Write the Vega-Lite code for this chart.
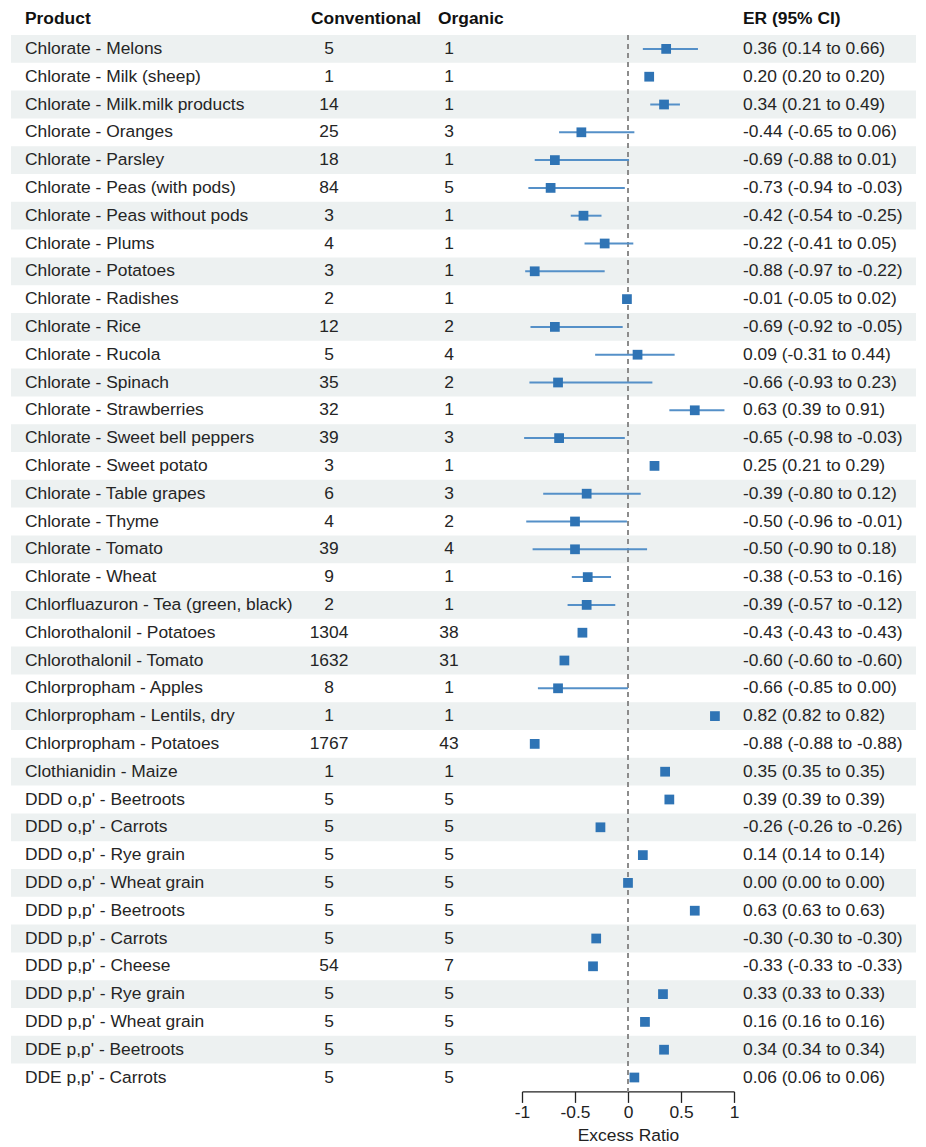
{
  "$schema": "https://vega.github.io/schema/vega-lite/v6.json",
  "padding": {"left": 11, "top": 9, "right": 0, "bottom": 0},
  "spacing": 0,
  "bounds": "flush",
  "config": {
    "view": {"stroke": null},
    "font": "Liberation Sans",
    "text": {"font": "Liberation Sans", "fontSize": 17.4, "color": "#252525"}
  },
  "data": {"values": [
    {"product": "Chlorate - Melons", "conv": "5", "org": "1", "er": 0.36, "lo": 0.14, "hi": 0.66, "label": "0.36 (0.14 to 0.66)"},
    {"product": "Chlorate - Milk (sheep)", "conv": "1", "org": "1", "er": 0.20, "lo": 0.20, "hi": 0.20, "label": "0.20 (0.20 to 0.20)"},
    {"product": "Chlorate - Milk.milk products", "conv": "14", "org": "1", "er": 0.34, "lo": 0.21, "hi": 0.49, "label": "0.34 (0.21 to 0.49)"},
    {"product": "Chlorate - Oranges", "conv": "25", "org": "3", "er": -0.44, "lo": -0.65, "hi": 0.06, "label": "-0.44 (-0.65 to 0.06)"},
    {"product": "Chlorate - Parsley", "conv": "18", "org": "1", "er": -0.69, "lo": -0.88, "hi": 0.01, "label": "-0.69 (-0.88 to 0.01)"},
    {"product": "Chlorate - Peas (with pods)", "conv": "84", "org": "5", "er": -0.73, "lo": -0.94, "hi": -0.03, "label": "-0.73 (-0.94 to -0.03)"},
    {"product": "Chlorate - Peas without pods", "conv": "3", "org": "1", "er": -0.42, "lo": -0.54, "hi": -0.25, "label": "-0.42 (-0.54 to -0.25)"},
    {"product": "Chlorate - Plums", "conv": "4", "org": "1", "er": -0.22, "lo": -0.41, "hi": 0.05, "label": "-0.22 (-0.41 to 0.05)"},
    {"product": "Chlorate - Potatoes", "conv": "3", "org": "1", "er": -0.88, "lo": -0.97, "hi": -0.22, "label": "-0.88 (-0.97 to -0.22)"},
    {"product": "Chlorate - Radishes", "conv": "2", "org": "1", "er": -0.01, "lo": -0.05, "hi": 0.02, "label": "-0.01 (-0.05 to 0.02)"},
    {"product": "Chlorate - Rice", "conv": "12", "org": "2", "er": -0.69, "lo": -0.92, "hi": -0.05, "label": "-0.69 (-0.92 to -0.05)"},
    {"product": "Chlorate - Rucola", "conv": "5", "org": "4", "er": 0.09, "lo": -0.31, "hi": 0.44, "label": "0.09 (-0.31 to 0.44)"},
    {"product": "Chlorate - Spinach", "conv": "35", "org": "2", "er": -0.66, "lo": -0.93, "hi": 0.23, "label": "-0.66 (-0.93 to 0.23)"},
    {"product": "Chlorate - Strawberries", "conv": "32", "org": "1", "er": 0.63, "lo": 0.39, "hi": 0.91, "label": "0.63 (0.39 to 0.91)"},
    {"product": "Chlorate - Sweet bell peppers", "conv": "39", "org": "3", "er": -0.65, "lo": -0.98, "hi": -0.03, "label": "-0.65 (-0.98 to -0.03)"},
    {"product": "Chlorate - Sweet potato", "conv": "3", "org": "1", "er": 0.25, "lo": 0.21, "hi": 0.29, "label": "0.25 (0.21 to 0.29)"},
    {"product": "Chlorate - Table grapes", "conv": "6", "org": "3", "er": -0.39, "lo": -0.80, "hi": 0.12, "label": "-0.39 (-0.80 to 0.12)"},
    {"product": "Chlorate - Thyme", "conv": "4", "org": "2", "er": -0.50, "lo": -0.96, "hi": -0.01, "label": "-0.50 (-0.96 to -0.01)"},
    {"product": "Chlorate - Tomato", "conv": "39", "org": "4", "er": -0.50, "lo": -0.90, "hi": 0.18, "label": "-0.50 (-0.90 to 0.18)"},
    {"product": "Chlorate - Wheat", "conv": "9", "org": "1", "er": -0.38, "lo": -0.53, "hi": -0.16, "label": "-0.38 (-0.53 to -0.16)"},
    {"product": "Chlorfluazuron - Tea (green, black)", "conv": "2", "org": "1", "er": -0.39, "lo": -0.57, "hi": -0.12, "label": "-0.39 (-0.57 to -0.12)"},
    {"product": "Chlorothalonil - Potatoes", "conv": "1304", "org": "38", "er": -0.43, "lo": -0.43, "hi": -0.43, "label": "-0.43 (-0.43 to -0.43)"},
    {"product": "Chlorothalonil - Tomato", "conv": "1632", "org": "31", "er": -0.60, "lo": -0.60, "hi": -0.60, "label": "-0.60 (-0.60 to -0.60)"},
    {"product": "Chlorpropham - Apples", "conv": "8", "org": "1", "er": -0.66, "lo": -0.85, "hi": 0.00, "label": "-0.66 (-0.85 to 0.00)"},
    {"product": "Chlorpropham - Lentils, dry", "conv": "1", "org": "1", "er": 0.82, "lo": 0.82, "hi": 0.82, "label": "0.82 (0.82 to 0.82)"},
    {"product": "Chlorpropham - Potatoes", "conv": "1767", "org": "43", "er": -0.88, "lo": -0.88, "hi": -0.88, "label": "-0.88 (-0.88 to -0.88)"},
    {"product": "Clothianidin - Maize", "conv": "1", "org": "1", "er": 0.35, "lo": 0.35, "hi": 0.35, "label": "0.35 (0.35 to 0.35)"},
    {"product": "DDD o,p' - Beetroots", "conv": "5", "org": "5", "er": 0.39, "lo": 0.39, "hi": 0.39, "label": "0.39 (0.39 to 0.39)"},
    {"product": "DDD o,p' - Carrots", "conv": "5", "org": "5", "er": -0.26, "lo": -0.26, "hi": -0.26, "label": "-0.26 (-0.26 to -0.26)"},
    {"product": "DDD o,p' - Rye grain", "conv": "5", "org": "5", "er": 0.14, "lo": 0.14, "hi": 0.14, "label": "0.14 (0.14 to 0.14)"},
    {"product": "DDD o,p' - Wheat grain", "conv": "5", "org": "5", "er": 0.00, "lo": 0.00, "hi": 0.00, "label": "0.00 (0.00 to 0.00)"},
    {"product": "DDD p,p' - Beetroots", "conv": "5", "org": "5", "er": 0.63, "lo": 0.63, "hi": 0.63, "label": "0.63 (0.63 to 0.63)"},
    {"product": "DDD p,p' - Carrots", "conv": "5", "org": "5", "er": -0.30, "lo": -0.30, "hi": -0.30, "label": "-0.30 (-0.30 to -0.30)"},
    {"product": "DDD p,p' - Cheese", "conv": "54", "org": "7", "er": -0.33, "lo": -0.33, "hi": -0.33, "label": "-0.33 (-0.33 to -0.33)"},
    {"product": "DDD p,p' - Rye grain", "conv": "5", "org": "5", "er": 0.33, "lo": 0.33, "hi": 0.33, "label": "0.33 (0.33 to 0.33)"},
    {"product": "DDD p,p' - Wheat grain", "conv": "5", "org": "5", "er": 0.16, "lo": 0.16, "hi": 0.16, "label": "0.16 (0.16 to 0.16)"},
    {"product": "DDE p,p' - Beetroots", "conv": "5", "org": "5", "er": 0.34, "lo": 0.34, "hi": 0.34, "label": "0.34 (0.34 to 0.34)"},
    {"product": "DDE p,p' - Carrots", "conv": "5", "org": "5", "er": 0.06, "lo": 0.06, "hi": 0.06, "label": "0.06 (0.06 to 0.06)"}
  ]},
  "transform": [{"window": [{"op": "row_number", "as": "idx"}]}],
  "hconcat": [
    {
      "width": 290,
      "height": {"step": 27.8},
      "title": {"text": "Product", "anchor": "start", "dx": 14, "fontSize": 17.4, "fontWeight": "bold", "font": "Liberation Sans", "color": "#111", "baseline": "middle", "offset": -1},
      "layer": [
        {"mark": {"type": "rect"}, "encoding": {
          "y": {"field": "product", "type": "nominal", "sort": null, "axis": null, "scale": {"paddingInner": 0, "paddingOuter": 0}},
          "fill": {"condition": {"test": "datum.idx % 2 === 1", "value": "#edf1f1"}, "value": "rgba(255,255,255,0)"}}},
        {"mark": {"type": "text", "align": "left", "baseline": "middle", "dx": 14}, "encoding": {
          "y": {"field": "product", "type": "nominal", "sort": null, "axis": null},
          "x": {"value": 0},
          "text": {"field": "product", "type": "nominal"}}}
      ]
    },
    {
      "width": 56,
      "height": {"step": 27.8},
      "title": {"text": "Conventional", "anchor": "start", "dx": 10, "fontSize": 17.4, "fontWeight": "bold", "font": "Liberation Sans", "color": "#111", "baseline": "middle", "offset": -1},
      "layer": [
        {"mark": {"type": "rect"}, "encoding": {
          "y": {"field": "product", "type": "nominal", "sort": null, "axis": null, "scale": {"paddingInner": 0, "paddingOuter": 0}},
          "fill": {"condition": {"test": "datum.idx % 2 === 1", "value": "#edf1f1"}, "value": "rgba(255,255,255,0)"}}},
        {"mark": {"type": "text", "align": "center", "baseline": "middle"}, "encoding": {
          "y": {"field": "product", "type": "nominal", "sort": null, "axis": null},
          "x": {"value": 28},
          "text": {"field": "conv", "type": "nominal"}}}
      ]
    },
    {
      "width": 165,
      "height": {"step": 27.8},
      "title": {"text": "Organic", "anchor": "start", "dx": 81, "fontSize": 17.4, "fontWeight": "bold", "font": "Liberation Sans", "color": "#111", "baseline": "middle", "offset": -1},
      "layer": [
        {"mark": {"type": "rect"}, "encoding": {
          "y": {"field": "product", "type": "nominal", "sort": null, "axis": null, "scale": {"paddingInner": 0, "paddingOuter": 0}},
          "fill": {"condition": {"test": "datum.idx % 2 === 1", "value": "#edf1f1"}, "value": "rgba(255,255,255,0)"}}},
        {"mark": {"type": "text", "align": "center", "baseline": "middle"}, "encoding": {
          "y": {"field": "product", "type": "nominal", "sort": null, "axis": null},
          "x": {"value": 92},
          "text": {"field": "org", "type": "nominal"}}}
      ]
    },
    {
      "width": 212,
      "height": {"step": 27.8},
      "layer": [
        {"mark": {"type": "rect"}, "encoding": {
          "y": {"field": "product", "type": "nominal", "sort": null, "axis": null, "scale": {"paddingInner": 0, "paddingOuter": 0}},
          "fill": {"condition": {"test": "datum.idx % 2 === 1", "value": "#edf1f1"}, "value": "rgba(255,255,255,0)"}}},
        {"mark": {"type": "rule", "color": "#8c8c8c", "strokeDash": [5, 4], "strokeWidth": 1.5}, "encoding": {
          "x": {"datum": 0, "type": "quantitative"}}},
        {"mark": {"type": "rule", "color": "#5590c8", "strokeWidth": 2}, "encoding": {
          "y": {"field": "product", "type": "nominal", "sort": null, "axis": null},
          "x": {"field": "lo", "type": "quantitative", "scale": {"domain": [-1, 1], "nice": false, "zero": false},
            "axis": {"values": [-1, -0.5, 0, 0.5, 1], "labelExpr": "datum.value + ''", "title": "Excess Ratio", "grid": false,
              "tickSize": 11, "tickWidth": 1.3, "domainWidth": 1.3, "domainColor": "#222", "tickColor": "#222",
              "labelFontSize": 17.4, "labelFont": "Liberation Sans", "labelColor": "#222", "labelPadding": 1, "labelFlush": false,
              "titleFontSize": 17.4, "titleFont": "Liberation Sans", "titleFontWeight": "normal", "titleColor": "#222", "titlePadding": 6}},
          "x2": {"field": "hi"}}},
        {"mark": {"type": "square", "filled": true, "opacity": 1, "size": 95, "color": "#2f74b5"}, "encoding": {
          "y": {"field": "product", "type": "nominal", "sort": null, "axis": null},
          "x": {"field": "er", "type": "quantitative"}}}
      ]
    },
    {
      "width": 182,
      "height": {"step": 27.8},
      "title": {"text": "ER (95% CI)", "anchor": "start", "dx": 9, "fontSize": 17.4, "fontWeight": "bold", "font": "Liberation Sans", "color": "#111", "baseline": "middle", "offset": -1},
      "layer": [
        {"mark": {"type": "rect"}, "encoding": {
          "y": {"field": "product", "type": "nominal", "sort": null, "axis": null, "scale": {"paddingInner": 0, "paddingOuter": 0}},
          "fill": {"condition": {"test": "datum.idx % 2 === 1", "value": "#edf1f1"}, "value": "rgba(255,255,255,0)"}}},
        {"mark": {"type": "text", "align": "left", "baseline": "middle", "dx": 9}, "encoding": {
          "y": {"field": "product", "type": "nominal", "sort": null, "axis": null},
          "x": {"value": 0},
          "text": {"field": "label", "type": "nominal"}}}
      ]
    }
  ]
}
